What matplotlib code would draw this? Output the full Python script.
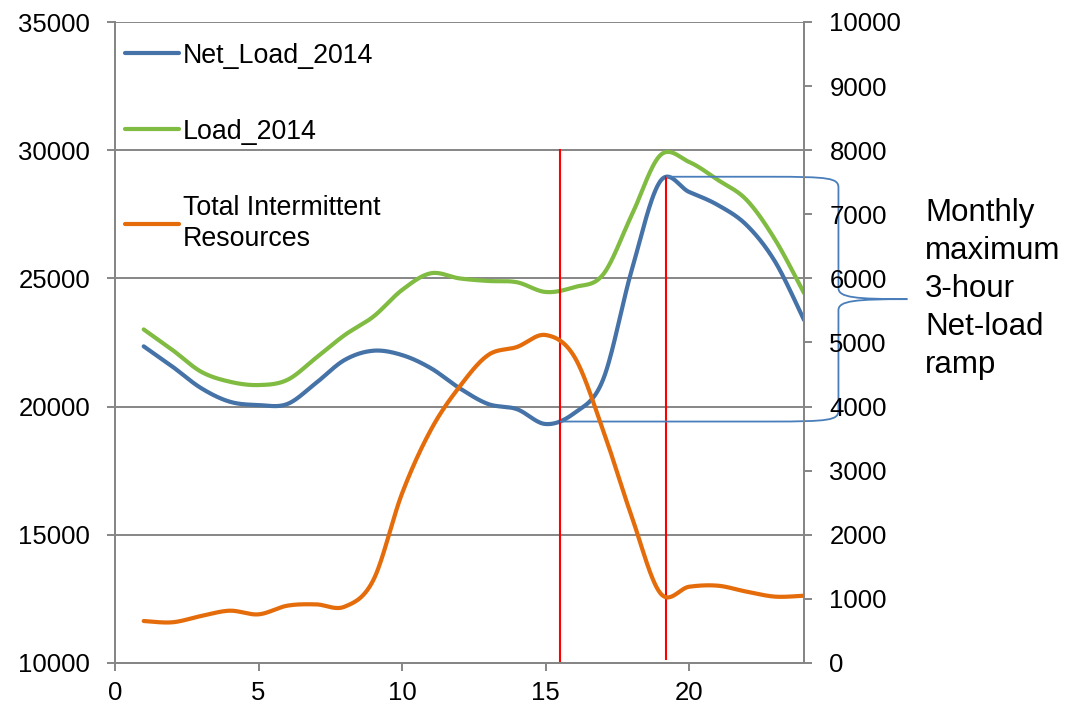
import numpy as np
import matplotlib
matplotlib.use("Agg")
import matplotlib.pyplot as plt
from matplotlib.path import Path
from matplotlib.patches import PathPatch

plt.rcParams['font.family'] = ['Liberation Sans', 'DejaVu Sans']

hours = list(range(1, 25))
net_load_2014 = [22350, 21560, 20720, 20190, 20060, 20100, 20920, 21820, 22180, 22010,
                 21500, 20720, 20100, 19900, 19320, 19750, 21050, 25330, 28800, 28370,
                 27860, 27080, 25640, 23380]
load_2014 = [23010, 22210, 21360, 20970, 20840, 21040, 21900, 22790, 23510, 24550,
             25200, 25000, 24900, 24850, 24470, 24660, 25150, 27470, 29810, 29540,
             28840, 28060, 26500, 24430]
total_intermittent = [655, 635, 733, 816, 759, 894, 915, 879, 1295, 2647,
                      3635, 4310, 4805, 4930, 5117, 4779, 3635, 2282, 1087, 1190,
                      1206, 1113, 1035, 1050]
series_labels = ['Net_Load_2014', 'Load_2014', 'Total Intermittent\nResources']
ramp_start_hour = 15.5
ramp_end_hour = 19.2
annotation_text = "Monthly\nmaximum\n3-hour\nNet-load\nramp"

BLUE = '#4572A7'
GREEN = '#80BB42'
ORANGE = '#E46C0A'
GRAY = '#868686'


def smooth(x, y, n=30):
    """Excel-style smoothed line (Catmull-Rom / Bezier)."""
    x = np.asarray(x, float)
    y = np.asarray(y, float)
    P = np.column_stack([x, y])
    out = []
    for i in range(len(P) - 1):
        p0 = P[i - 1] if i > 0 else P[i]
        p1 = P[i]
        p2 = P[i + 1]
        p3 = P[i + 2] if i + 2 < len(P) else P[i + 1]
        c1 = p1 + (p2 - p0) / 6.0
        c2 = p2 - (p3 - p1) / 6.0
        t = np.linspace(0, 1, n, endpoint=(i == len(P) - 2))[:, None]
        pts = ((1 - t) ** 3) * p1 + 3 * ((1 - t) ** 2) * t * c1 + 3 * (1 - t) * t ** 2 * c2 + t ** 3 * p2
        out.append(pts)
    pts = np.vstack(out)
    return pts[:, 0], pts[:, 1]


fig = plt.figure(figsize=(10.73, 7.06), dpi=100)
ax = fig.add_axes([115 / 1073, 1 - 663 / 706, (804 - 115) / 1073, (663 - 22) / 706])
ax2 = ax.twinx()

FS = 18.5
LW = 3.0

xb, yb = smooth(hours, net_load_2014)
xg, yg = smooth(hours, load_2014)
xo, yo = smooth(hours, total_intermittent)

l1, = ax.plot(xb, yb, color=BLUE, lw=LW, solid_capstyle='round', zorder=4)
l2, = ax.plot(xg, yg, color=GREEN, lw=LW, solid_capstyle='round', zorder=3)
l3, = ax2.plot(xo, yo, color=ORANGE, lw=LW, solid_capstyle='round', zorder=3)

ax.set_xlim(0, 24)
ax.set_ylim(10000, 35000)
ax2.set_ylim(0, 10000)
ax.set_xticks([0, 5, 10, 15, 20])
ax.set_yticks(range(10000, 35001, 5000))
ax2.set_yticks(range(0, 10001, 1000))

ax.grid(axis='y', color=GRAY, lw=1.4)
ax.set_axisbelow(True)
for a in (ax, ax2):
    a.spines['top'].set_visible(False)
    for s in ('left', 'right', 'bottom'):
        a.spines[s].set_color(GRAY)
        a.spines[s].set_linewidth(1.4)
    a.tick_params(colors=GRAY, labelcolor='black', labelsize=FS, width=1.4, length=5.8)
ax.tick_params(axis='y', pad=12)
ax2.tick_params(axis='y', pad=12.5)
ax.tick_params(axis='x', pad=7)

# red vertical lines marking the ramp window
i_min = np.argmin(np.abs(xb - ramp_start_hour))
i_max = np.argmin(np.abs(xb - ramp_end_hour))
ax.plot([ramp_start_hour, ramp_start_hour], [10000, 30000], color='red', lw=1.5, zorder=5)
ax.plot([ramp_end_hour, ramp_end_hour], [10150, yb[i_max]], color='red', lw=1.5, zorder=5)

# brace showing the ramp
y_top = yb[i_max]
y_bot = yb[i_min]
y_mid = (y_top + y_bot) / 2
xv = 25.2
xtip = 27.6
xc = 22.8
r = 430
verts = [(ramp_end_hour, y_top), (xc, y_top),
         (xv - 0.3, y_top), (xv, y_top - 50), (xv, y_top - r),
         (xv, y_mid + r),
         (xv, y_mid + 60), (xv + 0.6, y_mid), (xtip, y_mid),
         (xv + 0.6, y_mid), (xv, y_mid - 60), (xv, y_mid - r),
         (xv, y_bot + r),
         (xv, y_bot + 50), (xv - 0.3, y_bot), (xc, y_bot),
         (ramp_start_hour, y_bot)]
codes = [Path.MOVETO, Path.LINETO,
         Path.CURVE4, Path.CURVE4, Path.CURVE4,
         Path.LINETO,
         Path.CURVE4, Path.CURVE4, Path.CURVE4,
         Path.CURVE4, Path.CURVE4, Path.CURVE4,
         Path.LINETO,
         Path.CURVE4, Path.CURVE4, Path.CURVE4,
         Path.LINETO]
brace = PathPatch(Path(verts, codes), fill=False, edgecolor='#4A7EBB', lw=1.3,
                  clip_on=False, zorder=6)
ax.add_patch(brace)

fig.text(925 / 1073, 1 - 289 / 706, annotation_text, fontsize=22.5, ha='left',
         va='center', linespacing=1.35)

leg = ax.legend([l1, l2, l3], series_labels, loc='upper left',
                bbox_to_anchor=(0.0145, 0.968), frameon=False, fontsize=19.3,
                handlelength=2.0, handletextpad=0.15, labelspacing=1.87,
                borderpad=0, borderaxespad=0)
for t in leg.get_texts():
    t.set_linespacing(1.25)

fig.savefig('out.png', dpi=100)
